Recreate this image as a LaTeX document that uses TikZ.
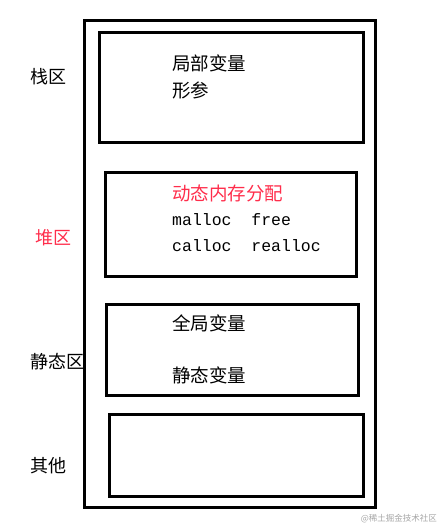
\documentclass[tikz,border=0pt]{standalone}
\usepackage{fontspec}
\usepackage{xcolor}
\newfontfamily\cjk{Noto Sans CJK SC}
\newfontfamily\codefont{Liberation Mono}
\definecolor{heapred}{RGB}{255,45,75}
\begin{document}
\begin{tikzpicture}[x=1pt, y=-1pt, box/.style={draw, line width=3pt, inner sep=0pt, outer sep=0pt}, txt/.style={anchor=west, inner sep=0pt, font=\cjk\fontsize{18.5}{18.5}\selectfont}, side/.style={anchor=west, inner sep=0pt, font=\cjk\fontsize{18}{18}\selectfont}, code/.style={anchor=west, inner sep=0pt, font=\codefont\fontsize{16.5}{16.5}\selectfont}]
\useasboundingbox (0,0) rectangle (440,529);
\node[box, minimum width=291pt, minimum height=486pt] (mem) at (229.5,264) {};
\node[box, minimum width=264pt, minimum height=110pt] (stack) at (231,88) {};
\node[box, minimum width=251pt, minimum height=103pt] (heap) at (230.5,224.5) {};
\node[box, minimum width=252pt, minimum height=91pt] (static) at (232,349.5) {};
\node[box, minimum width=254pt, minimum height=82pt] (other) at (236,455) {};
\node[txt] (s1) at (172,63) {局部变量};
\node[txt] (s2) at (172,90) {形参};
\node[txt, text=heapred] (h1) at (172,193) {动态内存分配};
\node[code] (h2) at (172,220) {malloc\ \ free};
\node[code] (h3) at (172,246) {calloc\ \ realloc};
\node[txt] (g1) at (172,323) {全局变量};
\node[txt] (g2) at (172,375) {静态变量};
\node[side] (l1) at (30,77) {栈区};
\node[side, text=heapred] (l2) at (35,238) {堆区};
\node[side] (l3) at (30,362) {静态区};
\node[side] (l4) at (30,466) {其他};
\node[anchor=east, inner sep=0pt, text=gray!70, font=\cjk\fontsize{8.5}{8.5}\selectfont] (wm) at (437,519) {@稀土掘金技术社区};
\end{tikzpicture}
\end{document}
